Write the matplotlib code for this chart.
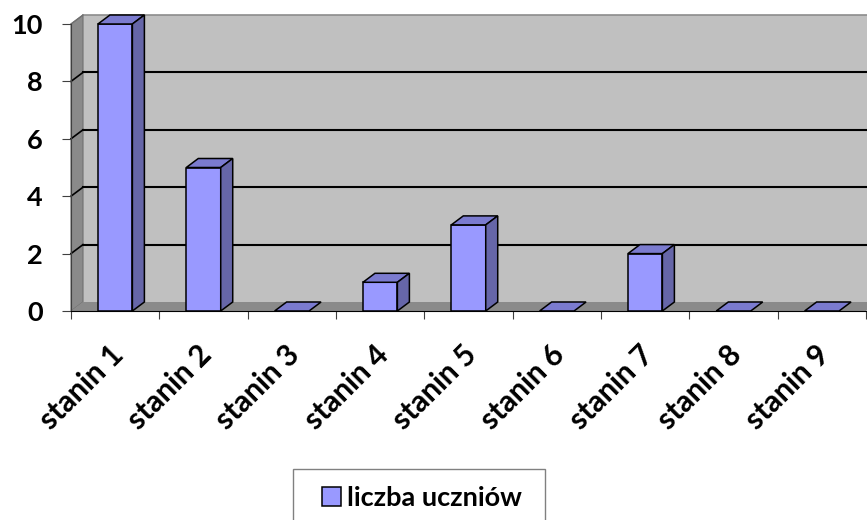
import numpy as np
import matplotlib
matplotlib.use('Agg')
import matplotlib.pyplot as plt
from matplotlib.patches import Polygon, Rectangle

# Dane
categories = ['stanin 1', 'stanin 2', 'stanin 3', 'stanin 4', 'stanin 5',
              'stanin 6', 'stanin 7', 'stanin 8', 'stanin 9']
values = [10, 5, 0, 1, 3, 0, 2, 0, 0]
series_name = 'liczba uczniów'
y_ticks = [0, 2, 4, 6, 8, 10]

FONT = 'Lato'
FS = 19.5
FS_X = 21.5
FRONT = '#9999FF'
SIDE = '#6666A8'
TOP = '#7B7BCF'
WALL = '#C0C0C0'
DARK = '#8A8A8A'

plt.rcParams['font.family'] = [FONT, 'DejaVu Sans']
plt.rcParams['font.weight'] = 'bold'
plt.rcParams['font.size'] = FS

W, H = 867, 520
fig = plt.figure(figsize=(W / 100, H / 100), dpi=100)
ax = fig.add_axes([71 / W, 209 / H, 795 / W, 287 / H])
n = len(categories)
ax.set_xlim(0, n)
ax.set_ylim(0, 10)

# glebokosc 3D w jednostkach danych (12 px w prawo, 9 px w gore)
dx = 12 / (ax.bbox.width / n)
dy = 9 / (ax.bbox.height / 10)

# sciany i podloga
ax.add_patch(Rectangle((dx, dy), n, 10, facecolor=WALL, edgecolor='none',
                       zorder=0, clip_on=False))
ax.add_patch(Polygon([(0, 0), (0, 10), (dx, 10 + dy), (dx, dy)],
                     facecolor=DARK, edgecolor='#707070', lw=0.8,
                     zorder=0.5, clip_on=False))
ax.add_patch(Polygon([(0, 0), (n, 0), (n + dx, dy), (dx, dy)],
                     facecolor=DARK, edgecolor='none', zorder=0.5,
                     clip_on=False))
ax.plot([dx, n + dx], [10 + dy, 10 + dy], color='#8C8C8C', lw=1.2,
        zorder=0.6, clip_on=False)

# linie siatki
for t in y_ticks[1:-1]:
    ax.plot([dx, n + dx], [t + dy, t + dy], color='black', lw=1.5,
            zorder=0.6, clip_on=False)
    ax.plot([0, dx], [t, t + dy], color='black', lw=1.2, zorder=0.6,
            clip_on=False)
ax.plot([0, dx], [10, 10 + dy], color='#707070', lw=1.0, zorder=0.6,
        clip_on=False)

# slupki
x = np.arange(n) + 0.5
bw = 0.39
ax.bar(x, values, width=bw, color=FRONT, edgecolor='black', lw=1.1,
       zorder=3, clip_on=False)
for xi, v in zip(x, values):
    l, r = xi - bw / 2, xi + bw / 2
    ax.add_patch(Polygon([(l, v), (r, v), (r + dx, v + dy), (l + dx, v + dy)],
                         facecolor=TOP, edgecolor='black', lw=1.1,
                         zorder=3, clip_on=False))
    if v > 0:
        ax.add_patch(Polygon([(r, 0), (r, v), (r + dx, v + dy), (r + dx, dy)],
                             facecolor=SIDE, edgecolor='black', lw=1.1,
                             zorder=3, clip_on=False))

# osie
for s in ['top', 'right']:
    ax.spines[s].set_visible(False)
ax.spines['left'].set_color('#404040')
ax.spines['bottom'].set_color('black')
ax.spines['bottom'].set_zorder(4)
ax.set_yticks(y_ticks)
ax.set_yticklabels([str(t) for t in y_ticks])
ax.tick_params(axis='y', length=6.5, width=0.8, pad=14, color='#404040',
               labelsize=FS)
ax.set_xticks(np.arange(n + 1))
ax.set_xticklabels([])
ax.tick_params(axis='x', which='major', length=6, width=0.8, color='#404040')
ax.set_xticks(x + 0.04, minor=True)
ax.set_xticklabels(categories, minor=True)
ax.tick_params(axis='x', which='minor', length=0, pad=28, labelsize=FS_X,
               labelrotation=45)
for lab in ax.get_xticklabels(minor=True):
    lab.set_ha('right')
    lab.set_va('center')
    lab.set_rotation_mode('anchor')
    lab.set_fontweight('bold')

# legenda
fig.patches.append(Rectangle((293 / W, -10 / H), 252 / W, (51 + 10) / H,
                             transform=fig.transFigure, facecolor='white',
                             edgecolor='#808080', lw=1.0))
leg = fig.legend([ax.containers[0]], [series_name], loc='center',
                 bbox_to_anchor=(422 / W, 1 - 498 / H), frameon=False,
                 fontsize=FS, handlelength=0.7, handleheight=0.7,
                 handletextpad=0.2)
for t in leg.get_texts():
    t.set_fontweight('bold')

fig.savefig('out.png', dpi=100)
